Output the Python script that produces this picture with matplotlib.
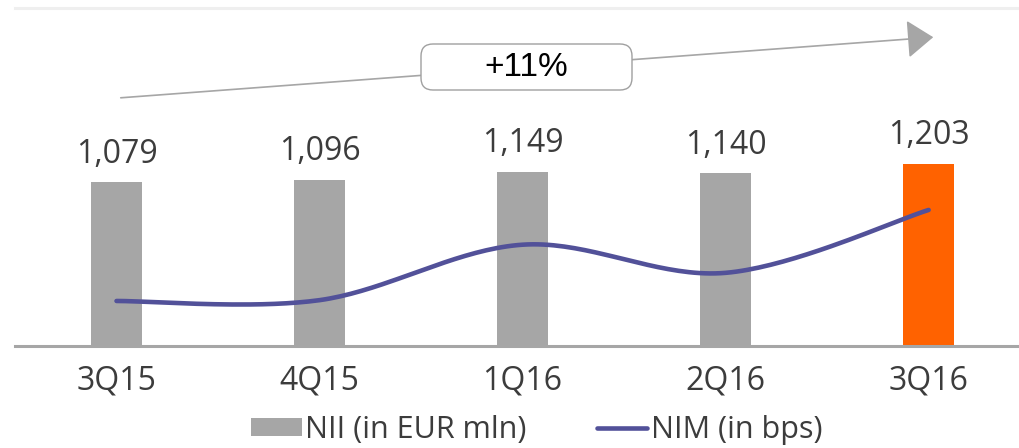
import numpy as np
import matplotlib
matplotlib.use('Agg')
import matplotlib.pyplot as plt
from matplotlib.patches import FancyArrowPatch, FancyBboxPatch, Patch
from matplotlib.lines import Line2D
from matplotlib.transforms import IdentityTransform

quarters = ['3Q15', '4Q15', '1Q16', '2Q16', '3Q16']
nii = [1079, 1096, 1149, 1140, 1203]
nim = [150.0, 150.1, 156.8, 153.4, 161.0]
growth_label = '+11%'

GREY = '#a6a6a6'
ORANGE = '#ff6200'
PURPLE = '#525199'
TEXT = '#3c3c3c'

plt.rcParams['font.family'] = ['Open Sans', 'DejaVu Sans']


def smooth_curve(x, y, sx, sy, n=40):
    # Excel-like smoothed line: cubic bezier with 1/6 tangents, done in pixel-ish space
    px = np.asarray(x, float) * sx
    py = np.asarray(y, float) * sy
    pts = np.column_stack([px, py])
    ext = np.vstack([pts[0], pts, pts[-1]])
    out = []
    for i in range(len(pts) - 1):
        p0, p1, p2, p3 = ext[i], ext[i + 1], ext[i + 2], ext[i + 3]
        c1 = p1 + (p2 - p0) / 6
        c2 = p2 - (p3 - p1) / 6
        t = np.linspace(0, 1, n)[:, None]
        seg = ((1 - t) ** 3) * p1 + 3 * ((1 - t) ** 2) * t * c1 + 3 * (1 - t) * t ** 2 * c2 + t ** 3 * p2
        out.append(seg if i == 0 else seg[1:])
    out = np.vstack(out)
    return out[:, 0] / sx, out[:, 1] / sy


fig = plt.figure(figsize=(10.2, 4.48), dpi=100)
ax = fig.add_axes([15 / 1020, 102 / 448, 1005 / 1020, 338 / 448])
x = np.arange(len(quarters))
colors = [GREY] * (len(quarters) - 1) + [ORANGE]
ax.bar(x, nii, width=0.25, color=colors, zorder=2)
for xi, v in zip(x, nii):
    ax.annotate(f'{v:,}', (xi, v), xytext=(0, 14), textcoords='offset points',
                ha='center', va='baseline', fontsize=23, color=TEXT)

ax.set_xlim(-0.5, 4.45)
ax.set_ylim(0, 2230)
ax.set_xticks(x)
ax.set_xticklabels(quarters, fontsize=23, color=TEXT)
ax.tick_params(axis='x', length=0, pad=13)
ax.set_yticks([])
for side in ['left', 'right', 'top']:
    ax.spines[side].set_visible(False)
ax.spines['bottom'].set_color(GREY)
ax.spines['bottom'].set_linewidth(2.2)
ax.axhline(2230, color='#efefef', lw=2.2, clip_on=False)

ax2 = ax.twinx()
ax2.set_ylim(144.56, 185.4)
sx_, sy_ = smooth_curve(x, nim, 203, 8.27)
ax2.plot(sx_, sy_, color=PURPLE, lw=3.3, solid_capstyle='round', zorder=3)
ax2.axis('off')

# growth arrow and box, in figure pixels
arrow = FancyArrowPatch((118, 350), (936, 411), transform=IdentityTransform(),
                        arrowstyle='-|>,head_length=11,head_width=8', mutation_scale=1.5,
                        color=GREY, lw=1.2)
fig.patches.append(arrow)
box = FancyBboxPatch((421, 358), 211, 46, transform=IdentityTransform(),
                     boxstyle='round,pad=0,rounding_size=12', facecolor='white',
                     edgecolor='#a0a0a0', lw=1)
fig.patches.append(box)
fig.text(526 / 1020, 381 / 448, growth_label, ha='center', va='center', fontsize=24,
         color='black', family=['Liberation Sans Narrow', 'Liberation Sans', 'DejaVu Sans'])

handles = [Patch(facecolor=GREY, edgecolor='none'),
           Line2D([0], [0], color=PURPLE, lw=3.3, solid_capstyle='round')]
fig.legend(handles, ['NII (in EUR mln)', 'NIM (in bps)'], loc='center',
           bbox_to_anchor=(537 / 1020, 18 / 448), ncol=2, frameon=False,
           fontsize=22, labelcolor=TEXT, handlelength=1.65, handleheight=0.55,
           handletextpad=0.12, columnspacing=2.3, borderpad=0)

fig.savefig('out.png', dpi=100)
